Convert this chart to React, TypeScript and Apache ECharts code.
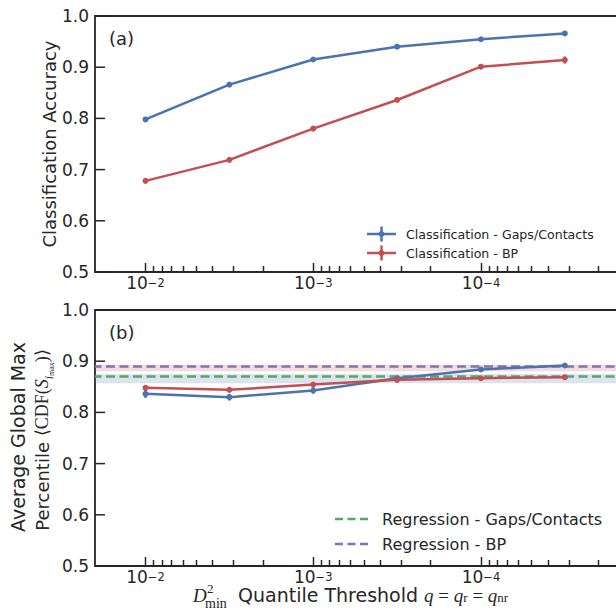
import React, { useEffect, useRef } from "react";
import * as echarts from "echarts";

// ---- data ----
const thresholds = [1e-2, 3.16e-3, 1e-3, 3.16e-4, 1e-4, 3.16e-5];
const accGaps = [0.798, 0.866, 0.915, 0.94, 0.9546, 0.966];
const accGapsErr = [0.002, 0.002, 0.002, 0.002, 0.002, 0.003];
const accBP = [0.678, 0.719, 0.78, 0.836, 0.901, 0.914];
const accBPErr = [0.002, 0.002, 0.002, 0.002, 0.004, 0.007];
const pctGaps = [0.8363, 0.8297, 0.8428, 0.8668, 0.8838, 0.8916];
const pctGapsErr = [0.008, 0.0065, 0.006, 0.004, 0.004, 0.003];
const pctBP = [0.848, 0.8441, 0.8545, 0.8636, 0.8668, 0.8688];
const pctBPErr = [0.005, 0.004, 0.004, 0.004, 0.003, 0.003];
const regGaps = 0.8658;
const regGapsErr = 0.009;
const regBP = 0.8867;
const regBPErr = 0.0063;
const majorTicks = [-2, -3, -4];
const yTicks = [0.5, 0.6, 0.7, 0.8, 0.9, 1.0];
// log10 of the minor tick positions k*10^e (k = 2..9, e = -3..-5)
const minorMantissas = [0.30103, 0.47712, 0.60206, 0.69897, 0.77815, 0.84510, 0.90309, 0.95424];
const minorDecades = [-3, -4, -5];

const INK = "#262626";
const BLUE = "#4C72B0";
const RED = "#C44E52";
const GREEN = "#55A868";
const PURPLE = "#8172B2";
const SANS = "DejaVu Sans";
const SERIF = "Liberation Serif";

const minorTicks: number[] = [];
minorDecades.forEach((e) => minorMantissas.forEach((m) => minorTicks.push(e + m)));

const X_MIN = -5.038;
const X_MAX = -1.699;

function xAxis(grid: number) {
  return {
    type: "value",
    gridIndex: grid,
    min: X_MIN,
    max: X_MAX,
    inverse: true,
    position: "bottom",
    axisLine: { show: false },
    splitLine: { show: false },
    axisTick: { show: false },
    axisLabel: {
      show: true,
      customValues: majorTicks,
      margin: 5,
      formatter: (v: number) => `{b|10}{s|\u2212${Math.round(Math.abs(v))}}`,
      rich: {
        b: { fontSize: 17, lineHeight: 14, verticalAlign: "bottom", fontFamily: SANS, color: INK },
        s: { fontSize: 11.5, lineHeight: 4, verticalAlign: "top", fontFamily: SANS, color: INK },
      },
    },
  };
}

function yAxis(grid: number) {
  return {
    type: "value",
    gridIndex: grid,
    min: 0.5,
    max: 1.0,
    interval: 0.1,
    axisLine: { show: false },
    splitLine: { show: false },
    axisTick: { show: false },
    axisLabel: {
      fontSize: 17,
      fontFamily: SANS,
      color: INK,
      margin: 6,
      customValues: yTicks,
      formatter: (v: number) => v.toFixed(1),
    },
  };
}

// tick marks placed through the axes' own scales
function xTickSeries(ai: number, vals: number[], len: number, w: number) {
  return {
    type: "custom",
    xAxisIndex: ai,
    yAxisIndex: ai,
    silent: true,
    clip: false,
    z: 10,
    data: vals.map((v) => [v, 0.5]),
    encode: { x: 0, y: 1 },
    renderItem: (params: any, api: any) => {
      const p = api.coord([api.value(0), api.value(1)]);
      const x = Math.round(p[0]) + 0.5;
      return {
        type: "line",
        shape: { x1: x, y1: p[1], x2: x, y2: p[1] - len },
        style: { stroke: INK, lineWidth: w },
      };
    },
  };
}

function yTickSeries(ai: number) {
  return {
    type: "custom",
    xAxisIndex: ai,
    yAxisIndex: ai,
    silent: true,
    clip: false,
    z: 10,
    data: yTicks.map((v) => [X_MAX, v]),
    encode: { x: 0, y: 1 },
    renderItem: (params: any, api: any) => {
      const p = api.coord([api.value(0), api.value(1)]);
      return {
        type: "line",
        shape: { x1: p[0], y1: p[1], x2: p[0] + 10, y2: p[1] },
        style: { stroke: INK, lineWidth: 1.5 },
      };
    },
  };
}

function lineSeries(name: string, vals: number[], color: string, ai: number) {
  return {
    name,
    type: "line",
    xAxisIndex: ai,
    yAxisIndex: ai,
    data: thresholds.map((t, i) => [Math.log10(t), vals[i]]),
    symbol: "circle",
    symbolSize: 6,
    itemStyle: { color },
    lineStyle: { color, width: 2.5 },
    z: 5,
  };
}

function errSeries(vals: number[], errs: number[], color: string, ai: number) {
  return {
    type: "custom",
    xAxisIndex: ai,
    yAxisIndex: ai,
    data: thresholds.map((t, i) => [Math.log10(t), vals[i] - errs[i], vals[i] + errs[i]]),
    encode: { x: 0, y: [1, 2] },
    z: 4,
    renderItem: (params: any, api: any) => {
      const x = api.value(0);
      const p1 = api.coord([x, api.value(1)]);
      const p2 = api.coord([x, api.value(2)]);
      return {
        type: "line",
        shape: { x1: p1[0], y1: p1[1], x2: p2[0], y2: p2[1] },
        style: { stroke: color, lineWidth: 2.5 },
      };
    },
  };
}

function refSeries(v: number, err: number, lineColor: string, bandColor: string) {
  return {
    type: "line",
    xAxisIndex: 1,
    yAxisIndex: 1,
    data: [],
    markArea: {
      silent: true,
      itemStyle: { color: bandColor },
      data: [[{ yAxis: v - err }, { yAxis: v + err }]],
      z: 1,
    },
    markLine: {
      silent: true,
      symbol: ["none", "none"],
      label: { show: false },
      lineStyle: { color: lineColor, width: 2.5, type: [9, 4.5] },
      data: [{ yAxis: v }],
    },
    z: 2,
  };
}

export default function App() {
  const ref = useRef<HTMLDivElement>(null);
  useEffect(() => {
    document.body.style.margin = "0";
    const chart = echarts.init(ref.current!, undefined, { renderer: "svg" });
    const txt = (x: number, y: number, text: string, fontSize: number, extra: any = {}) => ({
      type: "text",
      x,
      y,
      style: {
        text,
        fontSize,
        fontFamily: SANS,
        fill: INK,
        align: "left",
        verticalAlign: "middle",
        ...extra,
      },
    });
    const gridBase = {
      left: 95,
      width: 560,
      height: 256,
      show: true,
      borderColor: INK,
      borderWidth: 1.8,
      containLabel: false,
      outerBoundsMode: "none",
    };
    const option: any = {
      animation: false,
      backgroundColor: "#ffffff",
      grid: [
        { ...gridBase, top: 16 },
        { ...gridBase, top: 310 },
      ],
      xAxis: [xAxis(0), xAxis(1)],
      yAxis: [yAxis(0), yAxis(1)],
      series: [
        refSeries(regGaps, regGapsErr, GREEN, "rgba(76,114,176,0.2)"),
        refSeries(regBP, regBPErr, PURPLE, "rgba(196,78,82,0.2)"),
        xTickSeries(0, majorTicks, 9, 1.5),
        xTickSeries(0, minorTicks, 6, 1.5),
        xTickSeries(1, majorTicks, 9, 1.5),
        xTickSeries(1, minorTicks, 6, 1.5),
        yTickSeries(0),
        yTickSeries(1),
        errSeries(accGaps, accGapsErr, BLUE, 0),
        errSeries(accBP, accBPErr, RED, 0),
        lineSeries("Classification - Gaps/Contacts", accGaps, BLUE, 0),
        lineSeries("Classification - BP", accBP, RED, 0),
        errSeries(pctGaps, pctGapsErr, BLUE, 1),
        errSeries(pctBP, pctBPErr, RED, 1),
        lineSeries("Gaps/Contacts", pctGaps, BLUE, 1),
        lineSeries("BP", pctBP, RED, 1),
      ],
      graphic: [
        txt(109, 38, "(a)", 18),
        txt(109, 332, "(b)", 18),
        // top legend
        { type: "line", shape: { x1: 367, y1: 234, x2: 396, y2: 234 }, style: { stroke: BLUE, lineWidth: 2.5 } },
        { type: "line", shape: { x1: 381.5, y1: 226.5, x2: 381.5, y2: 241.5 }, style: { stroke: BLUE, lineWidth: 2.5 } },
        { type: "circle", shape: { cx: 381.5, cy: 234, r: 3 }, style: { fill: BLUE } },
        txt(406, 234, "Classification - Gaps/Contacts", 12.6),
        { type: "line", shape: { x1: 367, y1: 253, x2: 396, y2: 253 }, style: { stroke: RED, lineWidth: 2.5 } },
        { type: "line", shape: { x1: 381.5, y1: 245.5, x2: 381.5, y2: 260.5 }, style: { stroke: RED, lineWidth: 2.5 } },
        { type: "circle", shape: { cx: 381.5, cy: 253, r: 3 }, style: { fill: RED } },
        txt(406, 253, "Classification - BP", 12.6),
        // bottom legend
        { type: "line", shape: { x1: 335, y1: 519, x2: 368, y2: 519 }, style: { stroke: GREEN, lineWidth: 2.5, lineDash: [8, 4.5] } },
        txt(382, 519, "Regression - Gaps/Contacts", 16),
        { type: "line", shape: { x1: 335, y1: 544, x2: 368, y2: 544 }, style: { stroke: PURPLE, lineWidth: 2.5, lineDash: [8, 4.5] } },
        txt(382, 544, "Regression - BP", 16),
        // y titles
        {
          type: "text",
          x: 49,
          y: 144,
          rotation: Math.PI / 2,
          style: { text: "Classification Accuracy", fontSize: 18, fontFamily: SANS, fill: INK, align: "center", verticalAlign: "middle" },
        },
        {
          type: "text",
          x: 18,
          y: 437,
          rotation: Math.PI / 2,
          style: { text: "Average Global Max", fontSize: 19, fontFamily: SANS, fill: INK, align: "center", verticalAlign: "middle" },
        },
        {
          type: "text",
          x: 42,
          y: 440,
          rotation: Math.PI / 2,
          style: {
            text: "{p|Percentile }{m|\u27E8CDF(}{i|S}{s|i}{ss|max}{m|)\u27E9}",
            align: "center",
            verticalAlign: "middle",
            rich: {
              p: { fontSize: 18, fontFamily: SANS, fill: INK, lineHeight: 26, verticalAlign: "middle" },
              m: { fontSize: 18, fontFamily: SERIF, fill: INK, lineHeight: 26, verticalAlign: "middle" },
              i: { fontSize: 18, fontFamily: SERIF, fontStyle: "italic", fill: INK, lineHeight: 26, verticalAlign: "middle" },
              s: { fontSize: 12, fontFamily: SERIF, fontStyle: "italic", fill: INK, lineHeight: 14, verticalAlign: "bottom" },
              ss: { fontSize: 8, fontFamily: SERIF, fill: INK, lineHeight: 8, verticalAlign: "bottom" },
            },
          },
        },
        // x title
        txt(193, 595, "D", 19, { fontFamily: SERIF, fontStyle: "italic", lineHeight: 17 }),
        txt(207, 588, "2", 13, { fontFamily: SERIF, lineHeight: 12 }),
        txt(205, 603, "min", 14, { fontFamily: SERIF, lineHeight: 12 }),
        {
          type: "text",
          x: 238,
          y: 595,
          style: {
            text: "{t|Quantile Threshold }{i|q}{m| = }{i|q}{s|r}{m| = }{i|q}{s|nr}",
            align: "left",
            verticalAlign: "middle",
            rich: {
              t: { fontSize: 19, fontFamily: SANS, fill: INK, lineHeight: 17, verticalAlign: "middle" },
              i: { fontSize: 19, fontFamily: SERIF, fontStyle: "italic", fill: INK, lineHeight: 17, verticalAlign: "middle" },
              m: { fontSize: 19, fontFamily: SERIF, fill: INK, lineHeight: 17, verticalAlign: "middle" },
              s: { fontSize: 13, fontFamily: SERIF, fill: INK, lineHeight: 5, verticalAlign: "bottom" },
            },
          },
        },
      ],
    };
    chart.setOption(option);
    return () => chart.dispose();
  }, []);
  return <div ref={ref} style={{ width: 616, height: 615 }} />;
}
